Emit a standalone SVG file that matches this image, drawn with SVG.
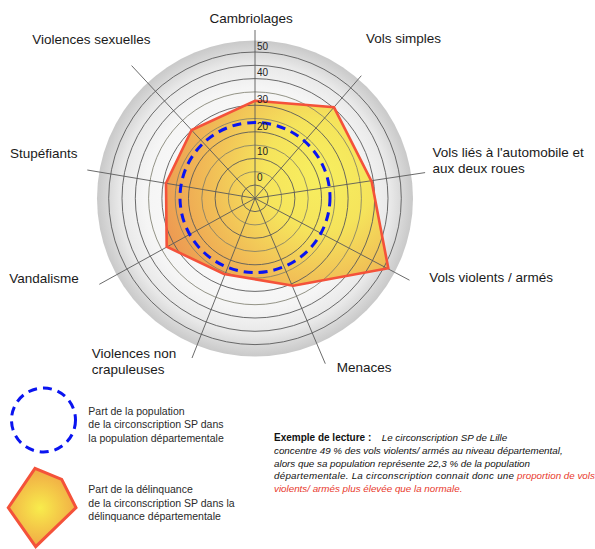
<svg xmlns="http://www.w3.org/2000/svg" width="595" height="549" viewBox="0 0 595 549">
<defs>
<radialGradient id="discGrad" gradientUnits="userSpaceOnUse" cx="255" cy="198.5" r="158">
<stop offset="0" stop-color="#ffffff"/>
<stop offset="0.7" stop-color="#f5f5f5"/>
<stop offset="0.86" stop-color="#e8e8e8"/>
<stop offset="0.94" stop-color="#d6d6d6"/>
<stop offset="1" stop-color="#c9c9c9"/>
</radialGradient>
<radialGradient id="polyGrad" gradientUnits="userSpaceOnUse" cx="320" cy="175" r="160">
<stop offset="0" stop-color="#f7ee52"/>
<stop offset="0.35" stop-color="#f5e24e"/>
<stop offset="0.7" stop-color="#f0b748"/>
<stop offset="1" stop-color="#ec9444"/>
</radialGradient>
<radialGradient id="legGrad" gradientUnits="userSpaceOnUse" cx="40" cy="508" r="42">
<stop offset="0" stop-color="#f8ec4c"/>
<stop offset="1" stop-color="#f0a444"/>
</radialGradient>
<style>
.lbl{font-family:"Liberation Sans",Arial,sans-serif;font-size:13.5px;fill:#1a1a1a}
.ax{font-family:"Liberation Sans",Arial,sans-serif;font-size:10px;fill:#222}
.leg{font-family:"Liberation Sans",Arial,sans-serif;font-size:10.5px;fill:#2a2a2a}
.ex{font-family:"Liberation Sans",Arial,sans-serif;font-size:9.8px;font-style:italic;fill:#111}
.exb{font-family:"Liberation Sans",Arial,sans-serif;font-size:10px;font-weight:bold;fill:#111}
.red{fill:#e8392c}
.ring{fill:none;stroke:#5a5a5a;stroke-width:0.9}
.ring2{fill:none;stroke:#7a7a6a;stroke-width:0.8}
.spoke{stroke:#5a5a5a;stroke-width:0.9}
.dash{fill:none;stroke:#0a14f0;stroke-width:3;stroke-dasharray:9 6}
.poly{stroke:#f4523a;stroke-width:2.6;stroke-linejoin:miter}
</style>
</defs>
<rect width="595" height="549" fill="#ffffff"/>
<g id="radar-background">
<circle cx="255" cy="198.5" r="158" fill="url(#discGrad)"/>
</g>
<g id="data-fill">
<polygon points="255,100.7 334,107.3 371.7,181.7 388.3,268.3 293.3,285.7 224,274 166.7,246.7 166,183.3 191.7,130" fill="url(#polyGrad)" opacity="0.92"/>
</g>
<g id="grid-rings">
<circle class="ring" cx="255" cy="198.3" r="13.3"/>
<circle class="ring2" cx="255" cy="198.3" r="26.6"/>
<circle class="ring" cx="255" cy="198.3" r="39.9"/>
<circle class="ring2" cx="255" cy="198.3" r="53.2"/>
<circle class="ring" cx="255" cy="198.3" r="66.5"/>
<circle class="ring2" cx="255" cy="198.3" r="79.8"/>
<circle class="ring" cx="255" cy="198.3" r="93.1"/>
<circle class="ring2" cx="255" cy="198.3" r="106.4"/>
<circle class="ring" cx="255" cy="198.3" r="119.7"/>
<circle class="ring" cx="255" cy="198.3" r="133"/>
<circle class="ring" cx="255" cy="198.3" r="146.3"/>
</g>
<g id="connectors">
<line class="spoke" x1="255" y1="198.3" x2="255" y2="30"/>
<line class="spoke" x1="255" y1="198.3" x2="361.3" y2="75.7"/>
<line class="spoke" x1="255" y1="198.3" x2="425.1" y2="172.6"/>
<line class="spoke" x1="255" y1="198.3" x2="409.5" y2="280.2"/>
<line class="spoke" x1="255" y1="198.3" x2="325.3" y2="363.7"/>
<line class="spoke" x1="255" y1="198.3" x2="192" y2="358"/>
<line class="spoke" x1="255" y1="198.3" x2="99.3" y2="284.3"/>
<line class="spoke" x1="255" y1="198.3" x2="87.3" y2="170"/>
<line class="spoke" x1="255" y1="198.3" x2="131.6" y2="65.6"/>
</g>
<g id="data-outline">
<polygon class="poly" points="255,100.7 334,107.3 371.7,181.7 388.3,268.3 293.3,285.7 224,274 166.7,246.7 166,183.3 191.7,130" fill="none"/>
</g>
<g id="population-circle">
<circle class="dash" cx="255" cy="197.5" r="75"/>
</g>
<g id="axis-labels">
<text class="ax" x="257" y="50">50</text>
<text class="ax" x="257" y="76.2">40</text>
<text class="ax" x="257" y="102.6">30</text>
<text class="ax" x="257" y="129.5">20</text>
<text class="ax" x="257" y="155">10</text>
<text class="ax" x="257" y="180.7">0</text>
</g>
<g id="node-cambriolages"><text class="lbl" x="209.5" y="22.5">Cambriolages</text></g>
<g id="node-vols-simples"><text class="lbl" x="366" y="43">Vols simples</text></g>
<g id="node-vols-automobile"><text class="lbl" x="432.5" y="157"><tspan x="432.5">Vols liés à l'automobile et</tspan><tspan x="432.5" y="172.5">aux deux roues</tspan></text></g>
<g id="node-vols-violents"><text class="lbl" x="429.3" y="282">Vols violents / armés</text></g>
<g id="node-menaces"><text class="lbl" x="336.7" y="371.7">Menaces</text></g>
<g id="node-violences-non-crapuleuses"><text class="lbl" x="91.7" y="358.3"><tspan x="91.7">Violences non</tspan><tspan x="91.7" y="374.3">crapuleuses</tspan></text></g>
<g id="node-vandalisme"><text class="lbl" x="9.3" y="283">Vandalisme</text></g>
<g id="node-stupefiants"><text class="lbl" x="10" y="158.3">Stupéfiants</text></g>
<g id="node-violences-sexuelles"><text class="lbl" x="32.3" y="44">Violences sexuelles</text></g>
<g id="legend-population">
<circle class="dash" cx="43.5" cy="420" r="32" stroke-dasharray="10 7"/>
<text class="leg" x="88.3" y="415"><tspan x="88.3">Part de la population</tspan><tspan x="88.3" y="428.4">de la circonscription SP dans</tspan><tspan x="88.3" y="441.8">la population départementale</tspan></text>
</g>
<g id="legend-delinquance">
<polygon points="35,468.3 61.7,479.3 76,507.7 35.7,546.7 8.3,507.7" fill="url(#legGrad)" stroke="#f4523a" stroke-width="3"/>
<text class="leg" x="88.3" y="493.3"><tspan x="88.3">Part de la délinquance</tspan><tspan x="88.3" y="506.5">de la circonscription SP dans la</tspan><tspan x="88.3" y="519.7">délinquance départementale</tspan></text>
</g>
<g id="reading-example">
<text class="exb" x="274" y="441">Exemple de lecture :</text>
<text class="ex" x="381.7" y="441">Le circonscription SP de Lille</text>
<text class="ex" x="274" y="453.8">concentre 49 % des vols violents/ armés au niveau départemental,</text>
<text class="ex" x="274" y="466.6">alors que sa population représente 22,3 % de la population</text>
<text class="ex" x="274" y="479.4" textLength="240" lengthAdjust="spacing">départementale.  La circonscription connait donc une</text>
<text class="ex red" x="517" y="479.4">proportion de vols</text>
<text class="ex red" x="274" y="492.2">violents/ armés plus élevée que la normale.</text>
</g>
</svg>
